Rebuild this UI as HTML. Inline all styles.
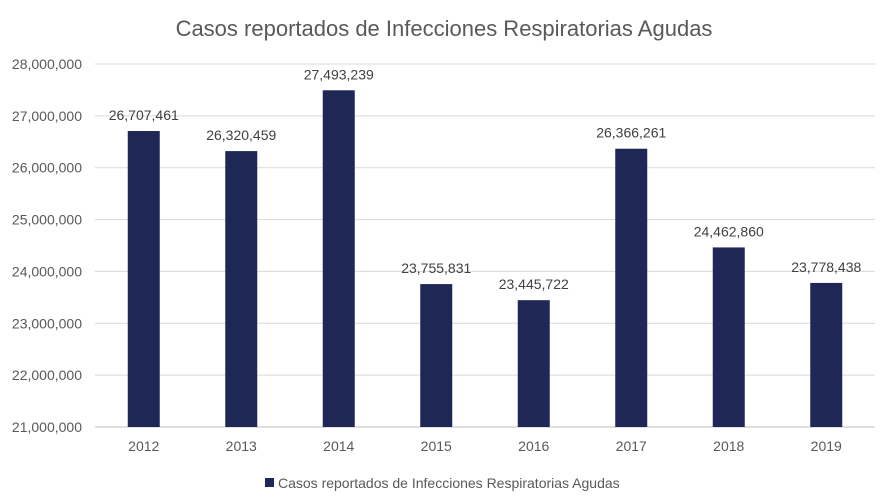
<!DOCTYPE html>
<html><head><meta charset="utf-8"><style>
body{margin:0;background:#fff;}
svg text{font-family:"Liberation Sans",sans-serif;}
</style></head><body>
<svg id="chart" width="889" height="494" xmlns="http://www.w3.org/2000/svg">
<rect width="889" height="494" fill="#fff"/>
<text x="444" y="36" text-anchor="middle" font-size="22" fill="#595959">Casos reportados de Infecciones Respiratorias Agudas</text>
<g id="grid"></g><g id="bars"></g><g id="labels"></g>
<g>
<rect x="265" y="478" width="9" height="9" fill="#1F2756"/>
<text x="278" y="488" font-size="14" fill="#595959">Casos reportados de Infecciones Respiratorias Agudas</text>
</g>
</svg>
<script>
const years=["2012","2013","2014","2015","2016","2017","2018","2019"];
const cases=[26707461,26320459,27493239,23755831,23445722,26366261,24462860,23778438];
const yTicks=[21000000,22000000,23000000,24000000,25000000,26000000,27000000,28000000];
const NS="http://www.w3.org/2000/svg";
const x0=95,x1=875,yMin=21000000,yMax=28000000,py0=427,py1=64;
const y=v=>py0-(v-yMin)/(yMax-yMin)*(py0-py1);
const band=(x1-x0)/years.length;
const xc=i=>x0+band*(i+0.5);
function mk(t,a,p){const e=document.createElementNS(NS,t);for(const k in a)e.setAttribute(k,a[k]);p.appendChild(e);return e;}
const g=document.getElementById('grid'),b=document.getElementById('bars'),l=document.getElementById('labels');
yTicks.forEach(v=>{
 const ln=mk('line',{x1:x0,x2:x1,y1:y(v),y2:y(v),stroke:v===yMin?'#bfbfbf':'#d9d9d9','stroke-width':1},g);
 
 
 const t=mk('text',{x:82,y:y(v)+5,'text-anchor':'end','font-size':14,fill:'#595959'},g);
 
 
 t.textContent=v.toLocaleString('en-US');
});
years.forEach((yr,i)=>{
 const bw=32;
 const r=mk('rect',{x:xc(i)-bw/2,y:y(cases[i]),width:bw,height:py0-y(cases[i]),fill:'#1F2756'},b);
 
 
 const v=mk('text',{x:xc(i),y:y(cases[i])-11,'text-anchor':'middle','font-size':14,fill:'#404040'},l);
 
 
 v.textContent=cases[i].toLocaleString('en-US');
 const t=mk('text',{x:xc(i),y:451,'text-anchor':'middle','font-size':14,fill:'#595959'},l);
 
 
 t.textContent=yr;
});
</script>
</body></html>
